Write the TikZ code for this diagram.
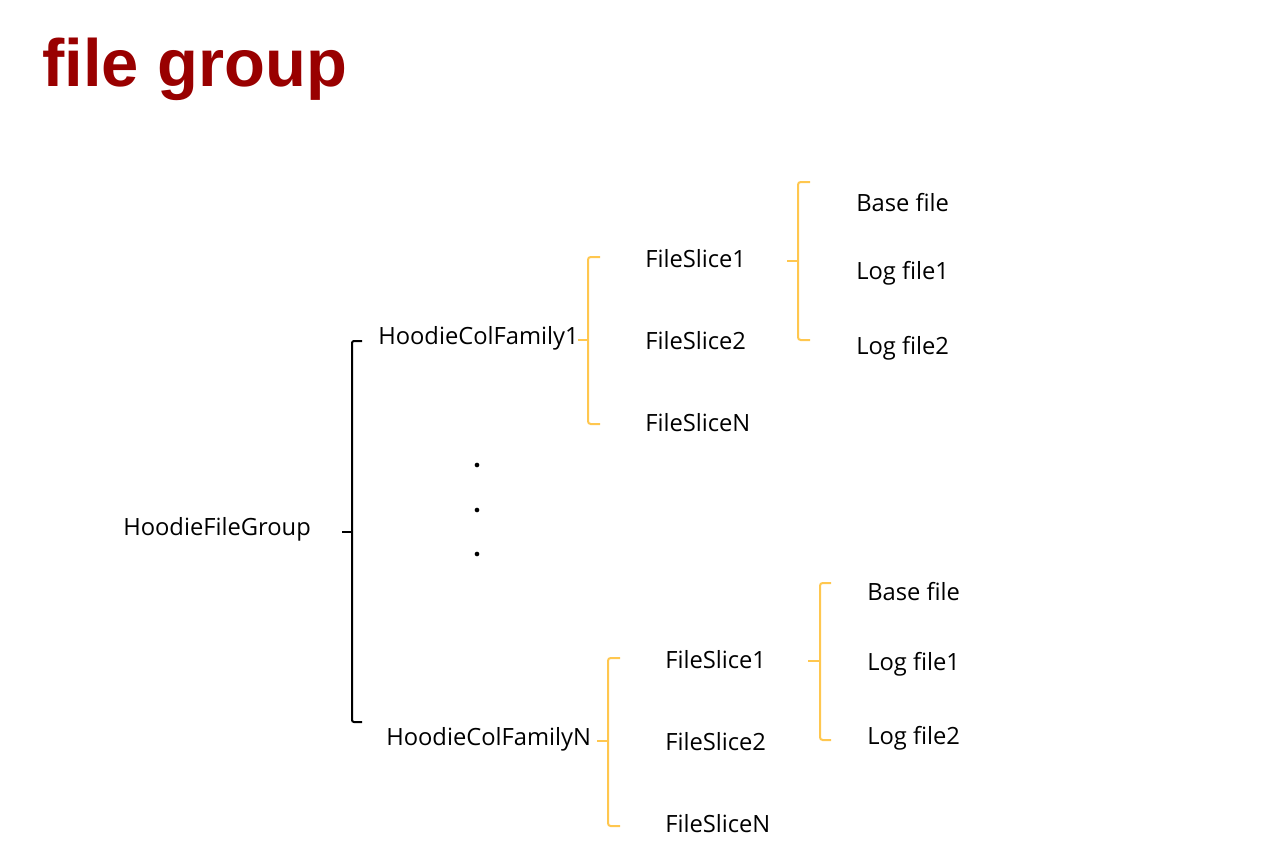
\documentclass[tikz,border=0pt]{standalone}
\usepackage{fontspec}
\setmainfont{Open Sans}
\newfontfamily\titlefont{Liberation Sans}
\definecolor{titlered}{HTML}{990000}
\definecolor{brorange}{HTML}{FFC74F}
\begin{document}
\begin{tikzpicture}[x=0.75pt,y=-0.75pt,
  lbl/.style={anchor=west,inner sep=0pt,font=\fontsize{17.8pt}{20pt}\selectfont},
  blackbr/.style={draw=black,line width=1.5pt,rounded corners=1.5pt},
  orbr/.style={draw=brorange,line width=1.5pt,rounded corners=2pt},
  dotn/.style={circle,fill=black,inner sep=0pt,minimum size=3.5pt}]
\useasboundingbox (0,0) rectangle (1275,853);
\node[anchor=base west,inner sep=0pt,text=titlered,font=\titlefont\bfseries\fontsize{50.2pt}{56pt}\selectfont] (title) at (42,86) {file group};

\node[lbl] (hfg) at (123,529) {HoodieFileGroup};
\node[lbl] (cf1) at (378,338) {HoodieColFamily1};
\node[lbl] (cfn) at (386,739) {HoodieColFamilyN};

\node[lbl] (a1) at (645,259) {FileSlice1};
\node[lbl] (a2) at (645,341) {FileSlice2};
\node[lbl] (an) at (645,423) {FileSliceN};
\node[lbl] (b1) at (856,203) {Base file};
\node[lbl] (b2) at (856,273) {Log file1};
\node[lbl] (b3) at (856,348) {Log file2};

\node[lbl] (c1) at (665,660) {FileSlice1};
\node[lbl] (c2) at (665,742) {FileSlice2};
\node[lbl] (cn) at (665,824) {FileSliceN};
\node[lbl] (d1) at (867,592) {Base file};
\node[lbl] (d2) at (867,664) {Log file1};
\node[lbl] (d3) at (867,738) {Log file2};

\node[dotn] (dot1) at (477,465) {};
\node[dotn] (dot2) at (477,510) {};
\node[dotn] (dot3) at (477,554) {};

% black bracket: HoodieFileGroup -> families
\coordinate (k0) at (342,532);
\coordinate (k0m) at (352,532);
\coordinate (k0t) at (362,341);
\coordinate (k0b) at (362,722);
\draw[blackbr] (k0t) -| (352,532) |- (k0b);
\draw[blackbr] (k0) -- (k0m);

% orange bracket: family1 -> slices
\coordinate (k1) at (578,340);
\coordinate (k1m) at (588,340);
\coordinate (k1t) at (600,257);
\coordinate (k1b) at (600,424);
\draw[orbr] (k1t) -| (588,340) |- (k1b);
\draw[orbr] (k1) -- (k1m);

% orange bracket: slice1 -> files
\coordinate (k2) at (787,261);
\coordinate (k2m) at (798,261);
\coordinate (k2t) at (810,182);
\coordinate (k2b) at (810,340);
\draw[orbr] (k2t) -| (798,261) |- (k2b);
\draw[orbr] (k2) -- (k2m);

% orange bracket: familyN -> slices
\coordinate (k3) at (597,741);
\coordinate (k3m) at (608,741);
\coordinate (k3t) at (620,658);
\coordinate (k3b) at (620,826);
\draw[orbr] (k3t) -| (608,741) |- (k3b);
\draw[orbr] (k3) -- (k3m);

% orange bracket: sliceN1 -> files
\coordinate (k4) at (808,661);
\coordinate (k4m) at (820,661);
\coordinate (k4t) at (831,583);
\coordinate (k4b) at (831,740);
\draw[orbr] (k4t) -| (820,661) |- (k4b);
\draw[orbr] (k4) -- (k4m);
\end{tikzpicture}
\end{document}
